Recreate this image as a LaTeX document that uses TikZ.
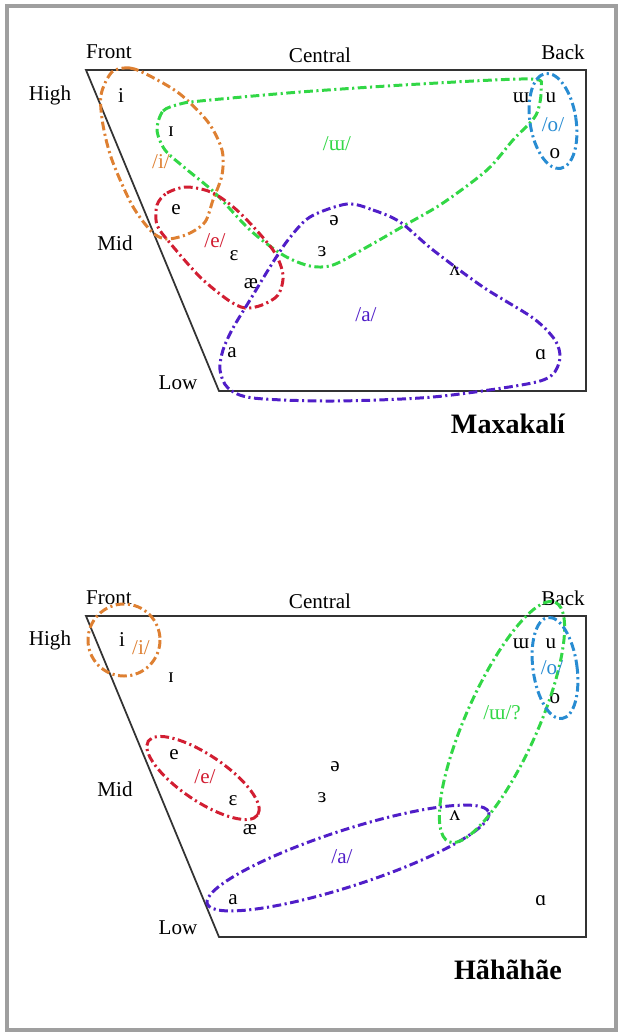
\documentclass[tikz,border=0pt]{standalone}
\usepackage{fontspec}
\setmainfont{Liberation Serif}
\usepackage{xcolor}
\definecolor{iorange}{RGB}{222,128,50}
\definecolor{ugreen}{RGB}{50,215,70}
\definecolor{ered}{RGB}{210,30,50}
\definecolor{osky}{RGB}{40,140,210}
\definecolor{apurple}{RGB}{80,30,200}
\tikzset{
    chart/.style={line width=1pt, draw=black!80},
    blob/.style={line width=1.7pt, dash pattern=on 5pt off 2pt on 1.2pt off 2pt},
    lbl/.style={font=\fontsize{12}{14}\selectfont, inner sep=0pt},
    phon/.style={font=\fontsize{12}{14}\selectfont, inner sep=0pt},
    lang/.style={font=\fontsize{16}{18}\selectfont\bfseries, inner sep=0pt},
}

\begin{document}
\begin{tikzpicture}[x=0.02cm, y=-0.02cm]
    \useasboundingbox (0,0) rectangle (619,1032);
    \draw[gray!75, line width=1.8pt] (7,6) rectangle (616,1030);

    % Maxakali
    \coordinate (MTL) at (86,70);
    \coordinate (MTR) at (586,70);
    \coordinate (MBR) at (586,391);
    \coordinate (MBL) at (219,391);
    \draw[chart] (MTL) -- (MTR) -- (MBR) -- (MBL) -- cycle;
    \node[lbl] (Mfront) at (109,52) {Front};
    \node[lbl] (Mcentral) at (320,55) {Central};
    \node[lbl] (Mback) at (563,52) {Back};
    \node[lbl] (Mhigh) at (50,95) {High};
    \node[lbl] (Mmid) at (115,243) {Mid};
    \node[lbl] (Mlow) at (178,383) {Low};
    \node[lbl] (Mi) at (121,96) {i};
    \node[lbl] (MI) at (171,132) {ɪ};
    \node[lbl] (Me) at (176,210) {e};
    \node[lbl] (Meps) at (234,256) {ɛ};
    \node[lbl] (Mae) at (251,284) {æ};
    \node[lbl] (Mschwa) at (334,221) {ə};
    \node[lbl] (Mrev) at (322,252) {ɜ};
    \node[lbl] (Mwedge) at (455,271) {ʌ};
    \node[lbl] (Ma) at (232,353) {a};
    \node[lbl] (Malpha) at (541,355) {ɑ};
    \node[lbl] (Mturnm) at (521,98) {ɯ};
    \node[lbl] (Mu) at (551,98) {u};
    \node[lbl] (Mo) at (555,154) {o};
    \node[lang] (Mname) at (508,424) {Maxakalí};

    \draw[blob, draw=iorange] plot[smooth cycle] coordinates {(112,72) (130,68) (150,76) (180,94) (208,122) (222,150) (222,175) (213,200) (205,222) (188,234) (167,239) (152,232) (132,205) (112,160) (103,125) (101,95)};
    \draw[blob, draw=ugreen] plot[smooth cycle] coordinates {(157,130) (163,111) (180,104) (200,101) (300,92) (420,84) (530,79) (541,88) (536,115) (513,140) (487,170) (443,203) (407,224) (367,247) (333,265) (310,266) (283,255) (250,230) (215,193) (185,168) (165,150)};
    \draw[blob, draw=ered] plot[smooth cycle] coordinates {(157,205) (167,193) (187,187) (213,193) (240,213) (273,250) (283,275) (278,295) (262,305) (245,308) (228,300) (200,277) (170,243) (157,225)};
    \draw[blob, draw=apurple] plot[smooth cycle] coordinates {(347,204) (373,210) (400,222) (433,250) (483,287) (533,318) (555,340) (560,358) (552,375) (527,384) (433,397) (333,401) (253,398) (228,388) (220,370) (223,350) (233,328) (250,300) (270,267) (288,240) (310,217)};
    \draw[blob, draw=osky, rotate around={9:(553,121)}] (553,121) ellipse [x radius=23, y radius=48];
    \node[phon, text=iorange] (Mpi) at (161,162) {/i/};
    \node[phon, text=ered] (Mpe) at (215,241) {/e/};
    \node[phon, text=ugreen] (Mpu) at (337,144) {/ɯ/};
    \node[phon, text=osky] (Mpo) at (553,125) {/o/};
    \node[phon, text=apurple] (Mpa) at (366,315) {/a/};

    % Hahahae
    \coordinate (HTL) at (86,616);
    \coordinate (HTR) at (586,616);
    \coordinate (HBR) at (586,937);
    \coordinate (HBL) at (219,937);
    \draw[chart] (HTL) -- (HTR) -- (HBR) -- (HBL) -- cycle;
    \node[lbl] (Hfront) at (109,598) {Front};
    \node[lbl] (Hcentral) at (320,601) {Central};
    \node[lbl] (Hback) at (563,598) {Back};
    \node[lbl] (Hhigh) at (50,640) {High};
    \node[lbl] (Hmid) at (115,789) {Mid};
    \node[lbl] (Hlow) at (178,928) {Low};
    \node[lbl] (Hi) at (122,640) {i};
    \node[lbl] (HI) at (171,678) {ɪ};
    \node[lbl] (He) at (174,755) {e};
    \node[lbl] (Heps) at (233,801) {ɛ};
    \node[lbl] (Hae) at (250,830) {æ};
    \node[lbl] (Hschwa) at (335,767) {ə};
    \node[lbl] (Hrev) at (322,798) {ɜ};
    \node[lbl] (Hwedge) at (455,816) {ʌ};
    \node[lbl] (Ha) at (233,900) {a};
    \node[lbl] (Halpha) at (541,901) {ɑ};
    \node[lbl] (Hturnm) at (521,644) {ɯ};
    \node[lbl] (Hu) at (551,644) {u};
    \node[lbl] (Ho) at (555,699) {o};
    \node[lang] (Hname) at (508,970) {Hãhãhãe};

    \draw[blob, draw=iorange] (124,640) circle [radius=36];
    \draw[blob, draw=ered, rotate around={-34:(203,778)}] (203,778) ellipse [x radius=66, y radius=23];
    \draw[blob, draw=apurple, rotate around={18:(348,858)}] (348,858) ellipse [x radius=148, y radius=28];
    \draw[blob, draw=ugreen, rotate around={66:(502,722)}] (502,722) ellipse [x radius=131, y radius=36];
    \draw[blob, draw=osky, rotate around={8:(555,668)}] (555,668) ellipse [x radius=22, y radius=51];
    \node[phon, text=iorange] (Hpi) at (141,648) {/i/};
    \node[phon, text=ered] (Hpe) at (205,777) {/e/};
    \node[phon, text=ugreen] (Hpu) at (502,713) {/ɯ/?};
    \node[phon, text=osky] (Hpo) at (552,668) {/o/};
    \node[phon, text=apurple] (Hpa) at (342,857) {/a/};
\end{tikzpicture}
\end{document}
